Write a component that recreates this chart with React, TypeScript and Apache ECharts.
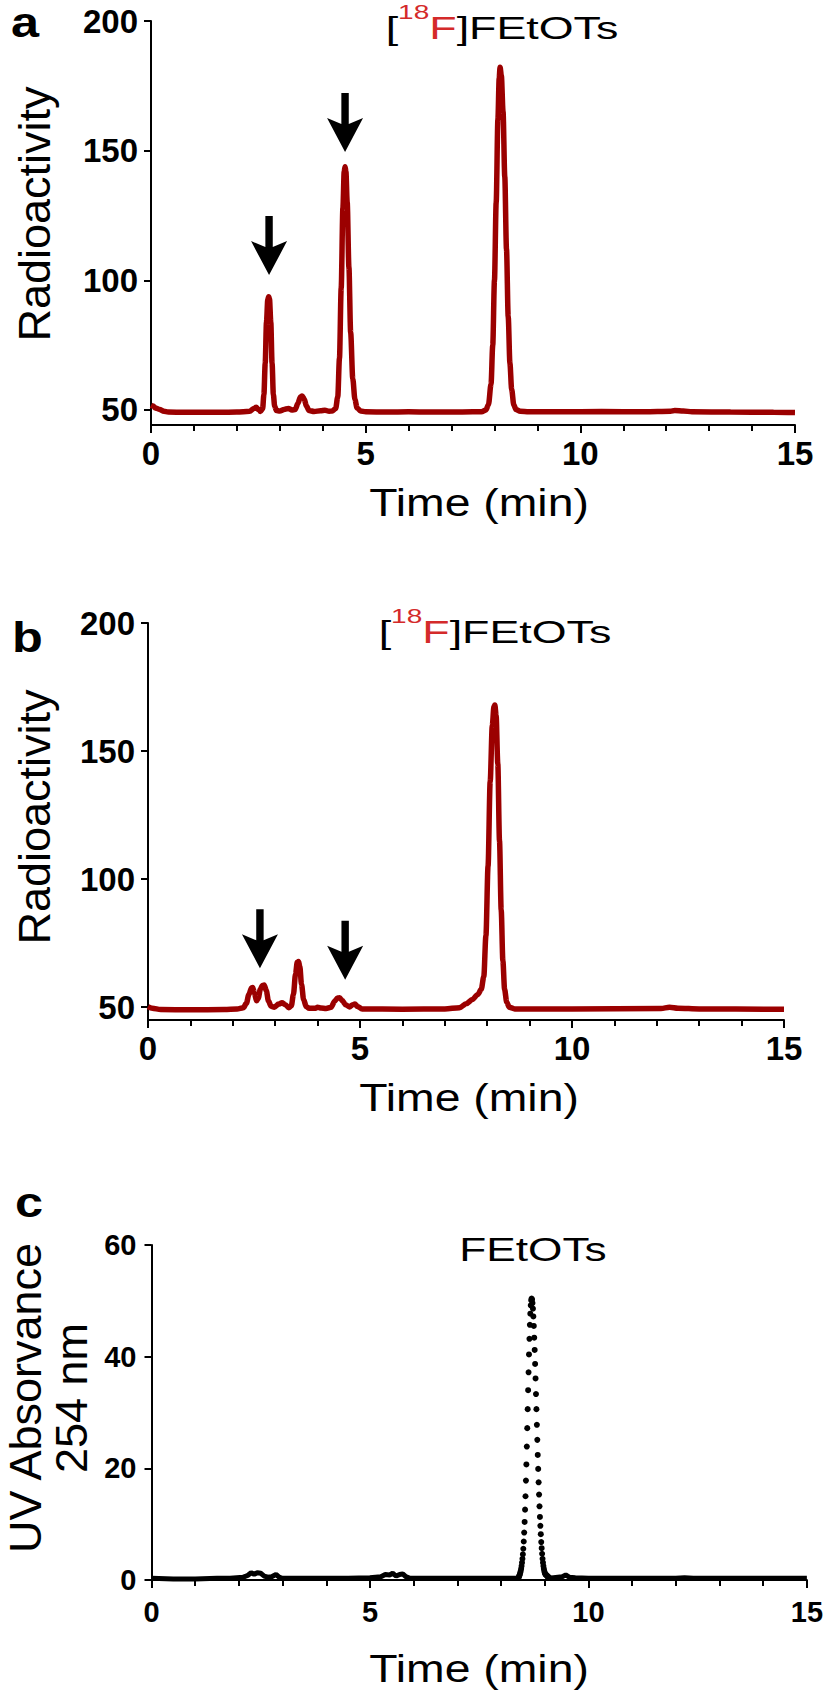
import React, { useEffect, useRef } from "react";
import * as echarts from "echarts";

// ---------- data ----------
const xTicks = [0, 5, 10, 15];
const radioTicks = [50, 100, 150, 200];
const uvTicks = [0, 20, 40, 60];

// Panel a: radio-HPLC trace
const timeA = [0, 0.05, 0.1, 0.2, 0.3, 0.4, 0.8, 1.2, 1.6, 2.0, 2.3, 2.4, 2.45, 2.5, 2.55, 2.6, 2.63, 2.66, 2.69, 2.72, 2.74, 2.76, 2.79, 2.82, 2.85, 2.88, 2.92, 3.0, 3.1, 3.2, 3.28, 3.36, 3.42, 3.48, 3.52, 3.57, 3.62, 3.68, 3.8, 3.95, 4.05, 4.15, 4.22, 4.3, 4.35, 4.39, 4.43, 4.47, 4.5, 4.52, 4.54, 4.57, 4.61, 4.65, 4.7, 4.75, 4.8, 4.88, 5.0, 5.5, 6.0, 6.5, 7.0, 7.5, 7.7, 7.8, 7.86, 7.92, 7.96, 8.0, 8.04, 8.08, 8.11, 8.13, 8.16, 8.2, 8.24, 8.28, 8.32, 8.36, 8.4, 8.45, 8.5, 8.6, 8.8, 9.5, 10.5, 11.5, 12.1, 12.2, 12.4, 12.6, 13.5, 14.5, 15];
const radioA = [51.8, 51.5, 50.8, 50.2, 49.5, 49.2, 49.1, 49.1, 49.1, 49.2, 49.5, 50.6, 51.0, 50.2, 49.4, 50.5, 56, 68, 84, 92.5, 93.7, 92.8, 84, 68, 56, 51.5, 49.8, 49.6, 50.2, 50.6, 50.0, 50.2, 52.5, 55.0, 55.4, 54.2, 51.5, 49.8, 49.4, 49.7, 49.9, 49.5, 49.6, 50.5, 55, 70, 97, 128, 142, 143.8, 142, 130, 105, 80, 62, 54, 50.8, 49.6, 49.3, 49.2, 49.3, 49.2, 49.2, 49.3, 49.3, 50.0, 52, 60, 75, 100, 130, 162, 178, 182.2, 179, 165, 140, 112, 86, 68, 58, 52, 50.2, 49.5, 49.3, 49.3, 49.4, 49.3, 49.5, 49.8, 49.6, 49.3, 49.2, 49.1, 49.0];
// arrows in panel a: time and the value at the arrow tip
const arrowTimeA = [2.75, 4.52];
const arrowTipA = [102, 149.5];

// Panel b: radio-HPLC trace
const timeB = [0, 0.1, 0.3, 1.0, 1.8, 2.1, 2.25, 2.32, 2.38, 2.44, 2.47, 2.51, 2.56, 2.6, 2.65, 2.7, 2.74, 2.79, 2.84, 2.9, 2.98, 3.08, 3.16, 3.24, 3.32, 3.38, 3.43, 3.48, 3.52, 3.55, 3.58, 3.62, 3.67, 3.73, 3.8, 3.95, 4.0, 4.08, 4.2, 4.32, 4.4, 4.47, 4.52, 4.58, 4.66, 4.75, 4.83, 4.88, 4.94, 5.05, 6.0, 7.0, 7.35, 7.5, 7.65, 7.78, 7.86, 7.92, 7.97, 8.02, 8.07, 8.12, 8.16, 8.18, 8.21, 8.25, 8.29, 8.33, 8.37, 8.41, 8.46, 8.52, 8.65, 10.0, 12.1, 12.3, 12.5, 13.0, 15.0];
const radioB = [50.2, 49.6, 49.1, 49.0, 49.1, 49.3, 49.8, 51.5, 55, 57.5, 57.7, 55.5, 52.5, 53.5, 57, 58.5, 58.7, 56.5, 52.5, 50.4, 50.0, 51.2, 51.7, 51.0, 49.8, 50.5, 55, 63, 67.5, 67.8, 66, 59, 53, 50.3, 49.6, 49.6, 50.0, 49.7, 49.5, 50.0, 52.3, 53.6, 53.7, 52.6, 51.0, 50.1, 51.0, 51.2, 50.3, 49.3, 49.2, 49.3, 49.8, 51.3, 53, 55, 57, 62, 78, 105, 138, 160, 167.5, 168, 164, 145, 115, 88, 68, 57, 52, 50, 49.3, 49.3, 49.5, 50.0, 49.6, 49.3, 49.2];
const arrowTimeB = [2.64, 4.65];
const arrowTipB = [65.2, 60.7];

// Panel c: UV trace (baseline part, gap where the peak is drawn as dots)
const uvBaseTime = [0, 0.5, 1.0, 1.5, 1.8, 2.1, 2.2, 2.28, 2.35, 2.42, 2.5, 2.58, 2.66, 2.75, 2.85, 2.92, 3.0, 3.5, 4.0, 4.5, 5.0, 5.25, 5.35, 5.45, 5.52, 5.6, 5.68, 5.75, 5.82, 5.92, 6.0, 6.5, 7.0, 7.5, 8.0, 8.4, 8.75, 9.1, 9.3, 9.4, 9.48, 9.56, 9.7, 10.0, 11.0, 12.0, 12.2, 12.4, 13.0, 14.0, 15.0];
const uvBaseValue = [0.3, 0.2, 0.2, 0.3, 0.3, 0.5, 0.8, 1.3, 1.0, 1.3, 1.2, 0.7, 0.5, 0.6, 1.0, 0.5, 0.3, 0.3, 0.3, 0.3, 0.4, 0.6, 1.0, 0.9, 1.2, 0.7, 1.0, 1.1, 0.6, 0.3, 0.3, 0.3, 0.3, 0.3, 0.3, 0.3, null, 0.3, 0.5, 0.6, 0.9, 0.5, 0.4, 0.3, 0.3, 0.3, 0.4, 0.3, 0.3, 0.3, 0.3];
// UV peak, sampled every 0.01 min from 8.40 min
const uvPeakStart = 8.4;
const uvPeakStep = 0.01;
const uvPeakValues = [0.4, 0.6, 0.8, 1.0, 1.3, 1.6, 2.0, 2.5, 3.1, 3.8, 4.6, 5.6, 6.9, 8.5, 10.4, 12.6, 15.0, 17.8, 20.7, 23.9, 27.2, 30.6, 34.0, 37.2, 40.4, 43.2, 45.7, 47.7, 49.2, 50.1, 50.4, 50.2, 49.6, 48.6, 47.2, 45.5, 43.4, 41.2, 38.7, 36.1, 33.3, 30.6, 27.8, 25.1, 22.4, 19.9, 17.5, 15.3, 13.2, 11.3, 9.7, 8.2, 6.8, 5.7, 4.7, 3.8, 3.1, 2.5, 2.0, 1.6, 1.3, 1.1, 1.0, 0.9, 0.9, 0.8, 0.7, 0.6, 0.5, 0.5, 0.4];

// ---------- styling ----------
const FONT = "'Liberation Sans', Arial, Helvetica, sans-serif";
const RED_TRACE = "#9b0000";
const RED_TEXT = "#d42a2a";
const ARROW_PATH = "path://M14.3 0 H21.7 V31 L36 25 L18 59 L0 25 L14.3 31 Z";

function xAxisCfg(gridIndex: number, fontSize: number, margin: number) {
  return {
    gridIndex,
    type: "value",
    min: 0,
    max: 15,
    interval: 5,
    axisLine: { show: true, onZero: false, lineStyle: { color: "#000", width: 2 } },
    axisTick: { show: true, length: 8, lineStyle: { color: "#000", width: 2 } },
    minorTick: { show: true, splitNumber: 5, length: 6, lineStyle: { color: "#000", width: 2 } },
    splitLine: { show: false },
    minorSplitLine: { show: false },
    axisLabel: {
      show: true,
      fontSize,
      fontWeight: "bold",
      fontFamily: FONT,
      color: "#000",
      margin,
      customValues: xTicks,
    },
  };
}

function yAxisCfg(gridIndex: number, min: number, max: number, ticks: number[], fontSize: number, margin: number) {
  return {
    gridIndex,
    type: "value",
    min,
    max,
    axisLine: { show: true, onZero: false, lineStyle: { color: "#000", width: 2 } },
    axisTick: { show: true, length: 7, lineStyle: { color: "#000", width: 2 }, customValues: ticks },
    splitLine: { show: false },
    axisLabel: {
      show: true,
      customValues: ticks,
      fontSize,
      fontWeight: "bold",
      fontFamily: FONT,
      color: "#000",
      margin,
    },
  };
}

function hText(text: string, x: number, y: number, fontSize: number, scaleX: number, extra: any = {}) {
  return {
    type: "text",
    x,
    y,
    scaleX,
    style: {
      text,
      fontSize,
      fontFamily: FONT,
      fill: "#000",
      align: "center",
      verticalAlign: "middle",
      ...extra,
    },
  };
}

function vText(text: string, x: number, y: number, fontSize: number, lineHeight: number) {
  return {
    type: "text",
    x,
    y,
    rotation: Math.PI / 2,
    style: {
      text,
      fontSize,
      fontFamily: FONT,
      fill: "#000",
      align: "center",
      verticalAlign: "middle",
      lineHeight,
    },
  };
}

function panelLetter(text: string, x: number, y: number) {
  return {
    type: "text",
    x,
    y,
    scaleX: 1.2,
    style: {
      text,
      fontSize: 42,
      fontWeight: "bold",
      fontFamily: FONT,
      fill: "#000",
      align: "left",
      verticalAlign: "middle",
    },
  };
}

const radioTitleStyle = {
  lineHeight: 52,
  rich: {
    sup: { fontSize: 20, lineHeight: 20, verticalAlign: "top", fill: RED_TEXT, color: RED_TEXT, fontFamily: FONT },
    red: { fontSize: 32, lineHeight: 52, fill: RED_TEXT, color: RED_TEXT, fontFamily: FONT },
  },
};

function arrowSeries(name: string, axisIndex: number, times: number[], tips: number[]) {
  return {
    name,
    type: "scatter",
    xAxisIndex: axisIndex,
    yAxisIndex: axisIndex,
    data: times.map((t, i) => [t, tips[i]]),
    symbol: ARROW_PATH,
    symbolSize: [36, 59],
    symbolOffset: [0, "-50%"],
    itemStyle: { color: "#000", opacity: 1 },
    clip: false,
    z: 5,
  };
}

function buildOption() {
  const dataA = timeA.map((t, i) => [t, radioA[i]]);
  const dataB = timeB.map((t, i) => [t, radioB[i]]);
  const dataUvBase = uvBaseTime.map((t, i) => [t, uvBaseValue[i] === null ? "-" : uvBaseValue[i]]);
  const dataUvPeak = uvPeakValues.map((v, i) => [+(uvPeakStart + i * uvPeakStep).toFixed(2), v]);

  return {
    animation: false,
    backgroundColor: "#fff",
    textStyle: { fontFamily: FONT },
    grid: [
      { left: 151, top: 21, width: 644, height: 404 },
      { left: 148, top: 623, width: 636, height: 397 },
      { left: 151.5, top: 1245, width: 656.5, height: 335 },
    ],
    xAxis: [xAxisCfg(0, 33, 12), xAxisCfg(1, 33, 12), xAxisCfg(2, 29, 17)],
    yAxis: [
      yAxisCfg(0, 44.2, 200, radioTicks, 33, 13),
      yAxisCfg(1, 45, 200, radioTicks, 33, 13),
      yAxisCfg(2, 0, 60, uvTicks, 29, 15),
    ],
    series: [
      {
        name: "Radioactivity a",
        type: "line",
        xAxisIndex: 0,
        yAxisIndex: 0,
        data: dataA,
        showSymbol: false,
        smooth: 0.3,
        smoothMonotone: "x",
        lineStyle: { color: RED_TRACE, width: 5.5 },
        z: 3,
      },
      arrowSeries("Arrows a", 0, arrowTimeA, arrowTipA),
      {
        name: "Radioactivity b",
        type: "line",
        xAxisIndex: 1,
        yAxisIndex: 1,
        data: dataB,
        showSymbol: false,
        smooth: 0.3,
        smoothMonotone: "x",
        lineStyle: { color: RED_TRACE, width: 5.5 },
        z: 3,
      },
      arrowSeries("Arrows b", 1, arrowTimeB, arrowTipB),
      {
        name: "UV baseline",
        type: "line",
        xAxisIndex: 2,
        yAxisIndex: 2,
        data: dataUvBase,
        showSymbol: false,
        connectNulls: false,
        lineStyle: { color: "#000", width: 5 },
        z: 3,
      },
      {
        name: "UV peak",
        type: "scatter",
        xAxisIndex: 2,
        yAxisIndex: 2,
        data: dataUvPeak,
        symbol: "circle",
        symbolSize: 6,
        itemStyle: { color: "#000", opacity: 1 },
        z: 3,
      },
    ],
    graphic: {
      elements: [
        panelLetter("a", 11, 23),
        panelLetter("b", 12, 638),
        panelLetter("c", 15, 1203),
        hText("[{sup|18}{red|F}]FEtOTs", 502, 28, 32, 1.4, radioTitleStyle),
        hText("[{sup|18}{red|F}]FEtOTs", 495, 632, 32, 1.4, radioTitleStyle),
        hText("FEtOTs", 533, 1249, 34, 1.3),
        hText("Time (min)", 479, 503, 38, 1.22),
        hText("Time (min)", 469, 1098, 38, 1.22),
        hText("Time (min)", 479, 1669, 38, 1.22),
        vText("Radioactivity", 34, 214, 45, 50),
        vText("Radioactivity", 34, 817, 45, 50),
        vText("UV Absorvance\n254 nm", 48, 1398, 45, 46),
      ],
    },
  };
}

export default function App() {
  const ref = useRef<HTMLDivElement>(null);
  useEffect(() => {
    if (!ref.current) return;
    const chart = echarts.init(ref.current, null, { renderer: "svg" });
    chart.setOption(buildOption() as any);
    return () => chart.dispose();
  }, []);
  return (
    <div
      ref={ref}
      style={{ position: "absolute", left: 0, top: 0, width: 826, height: 1691, background: "#fff" }}
    />
  );
}
